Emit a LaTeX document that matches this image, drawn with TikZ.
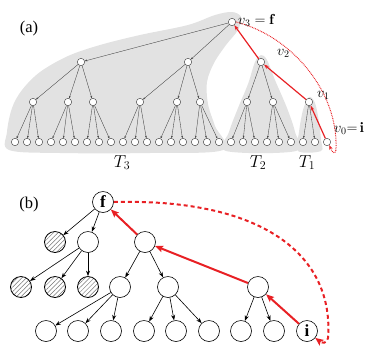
\documentclass[tikz,border=0pt]{standalone}
\usepackage{fontspec}
\newfontfamily\timesf{Liberation Serif}
\usetikzlibrary{arrows.meta,patterns.meta}
\definecolor{myred}{RGB}{232,32,36}
\definecolor{regiongray}{RGB}{226,226,226}
\begin{document}
\begin{tikzpicture}[x=1pt,y=-1pt,
  anode/.style={circle,draw=black!80,fill=white,line width=0.4pt,minimum size=7.4pt,inner sep=0pt},
  aedge/.style={draw=black!75,line width=0.35pt,-{Stealth[length=2.4pt,width=1.8pt]}},
  aredge/.style={draw=myred,line width=1.2pt,-{Stealth[length=5pt,width=3.6pt]}},
  adot/.style={draw=myred,line width=1pt,dash pattern=on 0.8pt off 0.9pt,-{Stealth[length=4.5pt,width=3.5pt]}},
  region/.style={fill=regiongray,draw=none},
  bnode/.style={circle,draw=black,fill=white,line width=0.6pt,minimum size=21pt,inner sep=0pt,font=\timesf\fontsize{17}{17}\selectfont\bfseries},
  hnode/.style={circle,draw=black,line width=0.8pt,minimum size=21pt,inner sep=0pt,pattern={Lines[angle=45,distance=3.2pt,line width=0.5pt]},pattern color=black!55},
  bedge/.style={draw=black,line width=0.6pt,-{Stealth[length=5.5pt,width=4pt]}},
  bredge/.style={draw=myred,line width=2pt,-{Stealth[length=8pt,width=6.5pt,inset=1.5pt]}},
  bdash/.style={draw=myred,line width=2pt,dash pattern=on 4pt off 3pt,-{Stealth[length=8pt,width=7pt,inset=1.5pt]}},
  lab/.style={inner sep=0pt,font=\fontsize{14.5}{17}\selectfont},
  tlab/.style={inner sep=0pt,font=\fontsize{17}{19}\selectfont},
  plab/.style={inner sep=0pt,font=\timesf\fontsize{16.5}{18}\selectfont}
]
\useasboundingbox (0,0) rectangle (374,354);
% ---------- (a) gray regions ----------
\fill[region] plot[smooth cycle,tension=0.55] coordinates {
 (9,150) (7,132) (12,108) (22,90) (40,72) (68,56) (100,45) (140,35) (188,25) (215,15) (232,12) (241,17) (238,30) (226,45) (214,63) (207,82) (208,104) (215,126) (223,150) (150,153) (60,153)};
\fill[region] plot[smooth cycle,tension=0.55] coordinates {
 (226,151) (229,132) (238,108) (248,84) (255,62) (261,55) (267,60) (275,80) (287,108) (295,132) (296,151)};
\fill[region] plot[smooth cycle,tension=0.55] coordinates {
 (298,151) (299,132) (303,110) (309,97) (315,103) (319,122) (321,140) (321,151)};
% ---------- (a) nodes ----------
\node[plab] (la) at (29,29) {(a)};
\node[anode] (v3) at (232,22) {};
\node[anode] (p1) at (81,62) {};
\node[anode] (p2) at (188,62) {};
\node[anode] (v2) at (261,62) {};
\node[anode] (a1) at (33,102) {};
\node[anode] (a2) at (68,102) {};
\node[anode] (a3) at (93,102) {};
\node[anode] (b1) at (140,102) {};
\node[anode] (b2) at (177,102) {};
\node[anode] (b3) at (200,102) {};
\node[anode] (c1) at (247,102) {};
\node[anode] (c2) at (273,102) {};
\node[anode] (v1) at (309,102) {};
\foreach \k in {0,...,26} \node[anode] (l\k) at ({15+12*\k},142) {};
% ---------- (a) edges ----------
\foreach \c in {p1,p2} \draw[aedge] (v3) -- (\c);
\foreach \c in {a1,a2,a3} \draw[aedge] (p1) -- (\c);
\foreach \c in {b1,b2,b3} \draw[aedge] (p2) -- (\c);
\foreach \c in {c1,c2} \draw[aedge] (v2) -- (\c);
\foreach \p/\s in {a1/0,a2/3,a3/6,b1/9,b2/12,b3/15,c1/18,c2/21} {
  \foreach \j in {0,1,2} {
    \pgfmathtruncatemacro{\leaf}{\s+\j}
    \draw[aedge] (\p) -- (l\leaf);
  }
}
\draw[aedge] (v1) -- (l24);
\draw[aedge] (v1) -- (l25);
\draw[aredge] (l26) -- (v1);
\draw[aredge] (v1) -- (v2);
\draw[aredge] (v2) -- (v3);
\draw[adot] (v3.east) .. controls (292,36) and (338,92) .. (336,148) .. controls (336,155) and (333,154) .. (l26.-55);
% labels (a)
\node[lab,anchor=base west] (tv3) at (238,24.5) {$v_3=\mathbf{f}$};
\node[lab,anchor=base west] (tv2) at (277,55) {$v_2$};
\node[lab,anchor=base west] (tv1) at (317,97) {$v_1$};
\node[lab,anchor=base west] (tv0) at (334,132) {$v_0{=}\,\mathbf{i}$};
\node[tlab,anchor=base] (t3) at (122,167) {$T_3$};
\node[tlab,anchor=base] (t2) at (258,167) {$T_2$};
\node[tlab,anchor=base] (t1) at (307,167) {$T_1$};
% ---------- (b) ----------
\node[plab] (lb) at (29,205) {(b)};
\node[bnode] (f) at (103,202) {f};
\node[hnode] (h1) at (55,242) {};
\node[bnode] (A) at (88,242) {};
\node[bnode] (B) at (145,242) {};
\node[hnode] (h2) at (21,287) {};
\node[hnode] (h3) at (55,287) {};
\node[hnode] (h4) at (88,287) {};
\node[bnode] (C) at (120,287) {};
\node[bnode] (D) at (168,287) {};
\node[bnode] (E) at (258,287) {};
\node[bnode] (m1) at (46,331) {};
\node[bnode] (m2) at (78,331) {};
\node[bnode] (m3) at (111,331) {};
\node[bnode] (m4) at (144,331) {};
\node[bnode] (m5) at (176,331) {};
\node[bnode] (m6) at (209,331) {};
\node[bnode] (m7) at (241,331) {};
\node[bnode] (m8) at (274,331) {};
\node[bnode] (i) at (307,331) {i};
\foreach \a/\b in {f/h1,f/A,A/h2,A/h3,A/h4,B/C,B/D,C/m1,C/m2,C/m3,D/m4,D/m5,D/m6,E/m7,E/m8}
  \draw[bedge] (\a) -- (\b);
\draw[bredge] (i) -- (E);
\draw[bredge] (E) -- (B);
\draw[bredge] (B) -- (f);
\draw[bdash] (f.east) .. controls (270,198) and (334,260) .. (328,338) .. controls (327,344) and (322,343) .. (i.-40);
\end{tikzpicture}
\end{document}
